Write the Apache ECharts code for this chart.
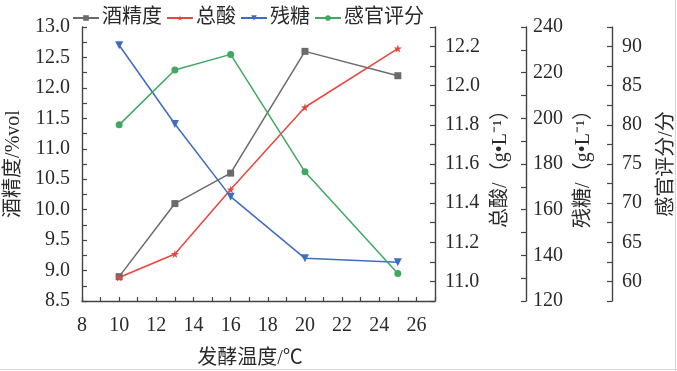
<!DOCTYPE html>
<html><head><meta charset="utf-8">
<script src="https://cdn.jsdelivr.net/npm/echarts@6/dist/echarts.min.js"></script>
<style>html,body{margin:0;padding:0;background:#fff}#c{width:677px;height:371px}</style>
</head><body><div id="c"></div>
<script>
var temps = [10, 13, 16, 20, 25];
var alcohol = [8.9, 10.1, 10.6, 12.6, 12.2];
var acid = [11.02, 11.14, 11.47, 11.89, 12.19];
var sugar = [232, 197.5, 165.7, 138.7, 137];
var score = [80, 87, 89, 74, 61];
var seriesNames = ['酒精度', '总酸', '残糖', '感官评分'];
var axisNames = ['酒精度/%vol', '总酸/（g•L⁻¹）', '残糖/（g•L⁻¹）', '感官评分/分'];
var xName = '发酵温度/℃';

var FONT = "'Liberation Serif', 'Noto Sans CJK SC', serif";
var TXT = '#2a2a2a';
var AX = '#444';
function pairs(ys){ return temps.map(function(t,i){return [t, ys[i]];}); }
function yAx(o){
  var base = {
    type:'value', scale:false, splitLine:{show:false},
    axisLine:{show:true, lineStyle:{color:AX, width:1.4}},
    axisTick:{show:true, inside:true, length:5, lineStyle:{color:AX, width:1.2}},
    axisLabel:{color:TXT, fontFamily:FONT, fontSize:20, margin:10},
    nameLocation:'middle', nameRotate:90,
    nameTextStyle:{color:TXT, fontFamily:FONT, fontSize:20}
  };
  for (var k in o) base[k] = o[k];
  return base;
}
var chart = echarts.init(document.getElementById('c'), null, {renderer:'canvas'});
var star = 'path://M50,0 L61,35 L98,35 L68,57 L79,91 L50,70 L21,91 L32,57 L2,35 L39,35 Z';
chart.setOption({
  backgroundColor:'#fff',
  animation:false,
  textStyle:{fontFamily:FONT},
  legend:{
    left:67, top:3, itemWidth:26, itemHeight:7, itemGap:4,
    textStyle:{color:TXT, fontFamily:FONT, fontSize:20, padding:[0,0,0,-2]},
    data:seriesNames
  },
  grid:{left:82, right:242, top:27, bottom:70, containLabel:false, outerBoundsMode:'none'},
  xAxis:{
    type:'value', min:8, max:27, interval:1,
    splitLine:{show:false},
    axisLine:{lineStyle:{color:AX, width:1.4}},
    axisTick:{inside:true, length:4, lineStyle:{color:AX, width:1.2}},
    axisLabel:{color:TXT, fontFamily:FONT, fontSize:20, margin:15,
      formatter:function(v){ return (Math.round(v)%2===0) ? String(v) : ''; }},
    name:xName, nameLocation:'middle', nameGap:48,
    nameTextStyle:{color:TXT, fontFamily:FONT, fontSize:20, padding:[0,17,0,0]}
  },
  yAxis:[
    yAx({position:'left', min:8.5, max:13, interval:0.25, name:axisNames[0], nameGap:54,
      axisLabel:{color:TXT, fontFamily:FONT, fontSize:20, margin:12,
        formatter:function(v){ return Math.abs(v*2-Math.round(v*2))<1e-6 ? v.toFixed(1) : ''; }}}),
    yAx({position:'right', offset:0, min:10.9, max:12.3, interval:0.1, name:axisNames[1], nameGap:48,
      axisLabel:{color:TXT, fontFamily:FONT, fontSize:20, margin:10,
        formatter:function(v){ return Math.round(v*10)%2===0 ? v.toFixed(1) : ''; }}}),
    yAx({position:'right', offset:91, min:120, max:240, interval:10, name:axisNames[2], nameGap:47,
      axisLabel:{color:TXT, fontFamily:FONT, fontSize:20, margin:7,
        formatter:function(v){ return Math.round(v)%20===0 ? String(v) : ''; }}}),
    yAx({position:'right', offset:177, min:57.5, max:92.5, interval:2.5, name:axisNames[3], nameGap:45,
      axisLabel:{color:TXT, fontFamily:FONT, fontSize:20, margin:10,
        formatter:function(v){ return Math.abs(v/5-Math.round(v/5))<1e-6 ? String(Math.round(v)) : ''; }}})
  ],
  series:[
    {name:seriesNames[0], type:'line', yAxisIndex:0, data:pairs(alcohol),
      symbol:'rect', symbolSize:7, lineStyle:{width:1.5, color:'#6b6b6b'}, itemStyle:{color:'#6b6b6b'}},
    {name:seriesNames[1], type:'line', yAxisIndex:1, data:pairs(acid),
      symbol:star, symbolSize:8, lineStyle:{width:1.5, color:'#e8463c'}, itemStyle:{color:'#e8463c'}},
    {name:seriesNames[2], type:'line', yAxisIndex:2, data:pairs(sugar),
      symbol:'triangle', symbolRotate:180, symbolSize:8, lineStyle:{width:1.5, color:'#3d6cc0'}, itemStyle:{color:'#3d6cc0'}},
    {name:seriesNames[3], type:'line', yAxisIndex:3, data:pairs(score),
      symbol:'circle', symbolSize:7, lineStyle:{width:1.5, color:'#3fa862'}, itemStyle:{color:'#3fa862'}}
  ],
  graphic:[
    {type:'line', shape:{x1:0,y1:369.5,x2:677,y2:369.5}, style:{stroke:'#d6d6d6', lineWidth:1}, silent:true},
    {type:'line', shape:{x1:675.5,y1:0,x2:675.5,y2:371}, style:{stroke:'#d6d6d6', lineWidth:1}, silent:true}
  ]
});
</script></body></html>
